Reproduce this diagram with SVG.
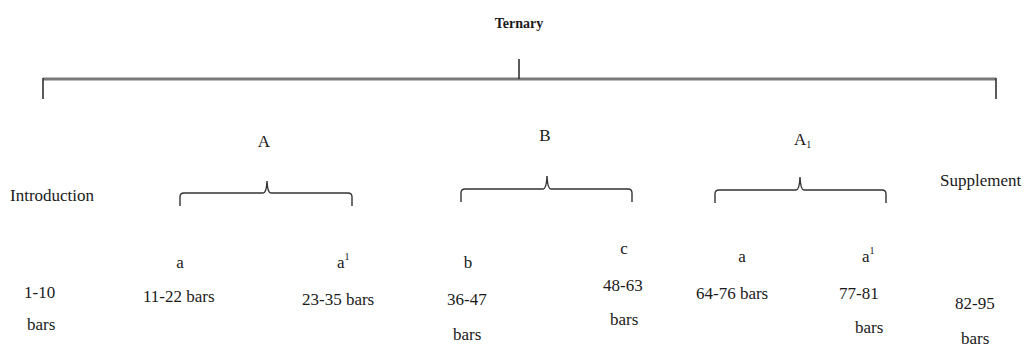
<svg xmlns="http://www.w3.org/2000/svg" width="1027" height="348" viewBox="0 0 1027 348">
<style>
text{font-family:"Liberation Serif","Times New Roman",serif;font-size:17px;fill:#1a1a1a}
.title{font-weight:bold;font-size:14px;text-anchor:middle}
.c{text-anchor:middle}
.sub{font-size:10px}
.br{fill:none;stroke:#333;stroke-width:1.4}
.main{fill:none;stroke:#7a7a7a;stroke-width:3}
.vert{fill:none;stroke:#333;stroke-width:1.6}
</style>
<rect width="1027" height="348" fill="#fff"/>
<g id="connectors">
<path class="main" d="M43,79 H996"/>
<path class="vert" d="M519,59 V79 M43,78 V99 M996,78 V99"/>
<path class="br" d="M180,206 V197 Q180,193 184,193 H263 Q266.5,193 267,181 Q267.5,193 271,193 H348 Q352,193 352,197 V206"/>
<path class="br" d="M461,202 V193 Q461,189 465,189 H543 Q546.5,189 547,176 Q547.5,189 551,189 H628 Q632,189 632,193 V202"/>
<path class="br" d="M715,203 V194 Q715,190 719,190 H796 Q799.5,190 800,177 Q800.5,190 804,190 H882 Q886,190 886,194 V203"/>
</g>
<g id="ternary"><text class="title" x="519" y="28">Ternary</text></g>
<g id="introduction">
<text x="10" y="201">Introduction</text>
<text x="24" y="298">1-10</text>
<text x="27" y="330">bars</text>
</g>
<g id="sectionA"><text class="c" x="264" y="147">A</text></g>
<g id="sectionB"><text class="c" x="545" y="141">B</text></g>
<g id="sectionA1"><text x="794" y="145">A<tspan class="sub" dy="3">1</tspan></text></g>
<g id="supplement">
<text x="940" y="186">Supplement</text>
<text x="955" y="309">82-95</text>
<text x="961" y="344">bars</text>
</g>
<g id="partA-a">
<text class="c" x="180" y="268">a</text>
<text x="143" y="302">11-22 bars</text>
</g>
<g id="partA-a1">
<text x="337" y="268">a<tspan class="sub" dy="-8">1</tspan></text>
<text x="302" y="305">23-35 bars</text>
</g>
<g id="partB-b">
<text class="c" x="468" y="268">b</text>
<text x="447" y="305">36-47</text>
<text x="453" y="340">bars</text>
</g>
<g id="partB-c">
<text class="c" x="624" y="254">c</text>
<text x="603" y="291">48-63</text>
<text x="610" y="325">bars</text>
</g>
<g id="partA1-a">
<text class="c" x="742" y="262">a</text>
<text x="696" y="299">64-76 bars</text>
</g>
<g id="partA1-a1">
<text x="862" y="262">a<tspan class="sub" dy="-8">1</tspan></text>
<text x="839" y="299">77-81</text>
<text x="855" y="333">bars</text>
</g>
</svg>
